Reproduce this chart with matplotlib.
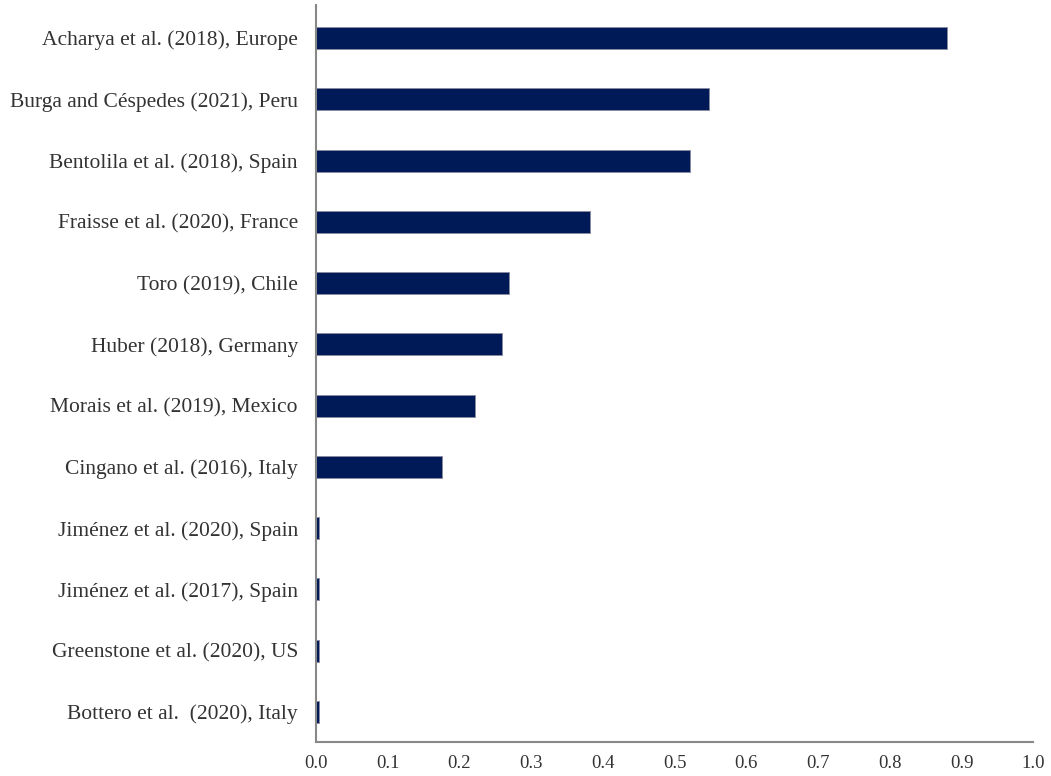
import numpy as np
import matplotlib.pyplot as plt

plt.rcParams['font.family'] = ['Liberation Serif', 'DejaVu Serif']

studies = [
    'Acharya et al. (2018), Europe',
    'Burga and Céspedes (2021), Peru',
    'Bentolila et al. (2018), Spain',
    'Fraisse et al. (2020), France',
    'Toro (2019), Chile',
    'Huber (2018), Germany',
    'Morais et al. (2019), Mexico',
    'Cingano et al. (2016), Italy',
    'Jiménez et al. (2020), Spain',
    'Jiménez et al. (2017), Spain',
    'Greenstone et al. (2020), US',
    'Bottero et al.  (2020), Italy',
]
values = [0.88, 0.548, 0.522, 0.382, 0.269, 0.259, 0.222, 0.176,
          0.004, 0.004, 0.004, 0.004]
xticks = [0.0, 0.1, 0.2, 0.3, 0.4, 0.5, 0.6, 0.7, 0.8, 0.9, 1.0]

fig = plt.figure(figsize=(10.51, 7.76), dpi=100)
ax = fig.add_axes([0.3007, 0.0438, 0.6825, 0.9498])

y = np.arange(len(studies))
ax.barh(y, values, height=0.36, color='#001a57', edgecolor='#8a8aa0', linewidth=0.6)
ax.set_yticks(y)
ax.set_yticklabels(studies, fontsize=15.5, color='#333333')
ax.set_ylim(len(studies) - 0.51, -0.54)
ax.set_xlim(0, 1.0)
ax.set_xticks(xticks)
ax.set_xticklabels([f'{t:.1f}' for t in xticks], fontsize=13.5, color='#333333')
ax.tick_params(axis='y', length=0, pad=13)
ax.tick_params(axis='x', length=0, pad=9)

for s in ['top', 'right']:
    ax.spines[s].set_visible(False)
for s in ['left', 'bottom']:
    ax.spines[s].set_color('#888888')
    ax.spines[s].set_linewidth(1.5)

fig.savefig('out.png', dpi=100)
